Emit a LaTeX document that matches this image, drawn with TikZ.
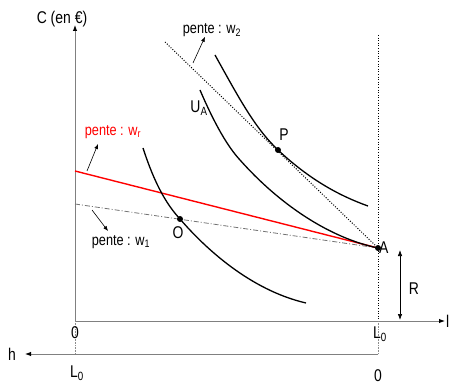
\documentclass[tikz,border=0pt]{standalone}
\usepackage{fontspec}
\setmainfont{Liberation Sans}[FakeStretch=0.82]
\usetikzlibrary{arrows.meta}
\newcommand{\mysub}[1]{\textsubscript{#1}}
\tikzset{
  axisline/.style={draw=black!50, line width=1pt},
  axisarrow/.style={axisline, -{Latex[length=6pt,width=4.5pt,color=black]}},
  curveline/.style={draw=black, line width=1.3pt},
  lab/.style={font=\fontsize{17}{19}\selectfont, inner sep=0pt},
  pentelab/.style={font=\fontsize{15.5}{18}\selectfont, inner sep=0pt},
  ptr/.style={draw=black, line width=0.6pt, -{Latex[length=5pt,width=4pt]}},
  dotpt/.style={fill=black, circle, inner sep=0pt, minimum size=6pt},
  dotline/.style={draw=black, line width=1pt, dash pattern=on 1pt off 1.6pt},
}
\begin{document}
\begin{tikzpicture}[x=1pt,y=-1pt]
\useasboundingbox (0,0) rectangle (449,387);
% points
\coordinate (O0) at (75,321);
\coordinate (Ctop) at (75,25);
\coordinate (Lend) at (445,321);
\coordinate (L0) at (378,321);
\coordinate (H0) at (378,354);
\coordinate (Hend) at (25,354);
\coordinate (HL) at (75,354);
\coordinate (Vtop) at (378,35);
\coordinate (A) at (378,248);
\coordinate (P) at (278,150);
\coordinate (O) at (180,219);
\coordinate (Rs) at (75,171);
\coordinate (W1s) at (75,204);
\coordinate (W2s) at (165,42);
\coordinate (Rtop) at (400,250);
\coordinate (Rbot) at (400,320);
% axes
\draw[axisarrow] (O0) -- (Ctop);
\draw[axisarrow] (O0) -- (Lend);
\draw[axisarrow] (H0) -- (Hend);
\draw[draw=black!45, line width=0.6pt, densely dotted] (O0) -- (HL);
\draw[draw=black!45, line width=0.6pt, densely dotted] (L0) -- (H0);
\draw[dotline] (Vtop) -- (L0);
% axis labels
\node[lab, anchor=south] (clab) at (62,27) {C (en €)};
\node[lab, anchor=west] (llab) at (446,321) {l};
\node[lab] (hlab) at (12,354) {h};
\node[lab] (zero1) at (75,333) {0};
\node[lab] (l01) at (380,334) {L\mysub{0}};
\node[lab] (l02) at (77,373) {L\mysub{0}};
\node[lab] (zero2) at (378,376) {0};
% budget lines
\draw[draw=black!55, line width=0.8pt, dash pattern=on 5pt off 2pt on 1pt off 2pt] (W1s) -- (A);
\draw[draw=red, line width=1.4pt] (Rs) -- (A);
\draw[dotline] (W2s) -- (A);
% indifference curves
\draw[curveline] (215,55) .. controls (240,100) and (255,128) .. (P)
  .. controls (310,180) and (340,196) .. (368,206);
\draw[curveline] (200,90) .. controls (215,125) and (228,147) .. (240,160)
  .. controls (280,205) and (330,238) .. (A);
\draw[curveline] (143,148) .. controls (155,185) and (167,205) .. (O)
  .. controls (205,248) and (250,290) .. (306,303);
% points
\node[dotpt] (Adot) at (A) {};
\node[dotpt] (Pdot) at (P) {};
\node[dotpt] (Odot) at (O) {};
\node[lab, anchor=west] (Alab) at (379,248) {A};
\node[lab] (Plab) at (284,135) {P};
\node[lab] (Olab) at (178,233) {O};
\node[lab] (UAlab) at (199,108) {U\mysub{A}};
% R
\draw[draw=black, line width=0.7pt, {Latex[length=6pt,width=4.5pt]}-{Latex[length=6pt,width=4.5pt]}] (Rtop) -- (Rbot);
\node[lab] (Rlab) at (414,289) {R};
% pente labels
\node[pentelab] (w2lab) at (212,30) {pente : w\mysub{2}};
\node[pentelab, text=red] (wrlab) at (113,132) {pente : w\mysub{r}};
\node[pentelab] (w1lab) at (121,242) {pente : w\mysub{1}};
\coordinate (w2s) at (193,63);
\coordinate (wrs) at (87,171);
\coordinate (w1s) at (92,210);
\draw[ptr] (w2s) -- (w2lab.south -| 205,0);
\draw[ptr] (wrs) -- (98,144);
\draw[ptr] (w1s) -- (108,231);
\end{tikzpicture}
\end{document}
